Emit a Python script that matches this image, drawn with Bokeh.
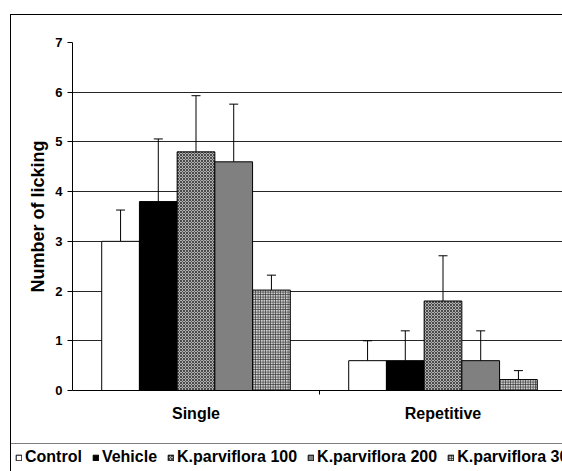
from bokeh.plotting import figure
from bokeh.layouts import column, row
from bokeh.models import (ColumnDataSource, Range1d, FixedTicker, Whisker, TeeHead, Legend, LegendItem, Div)
from bokeh.embed import file_html
from bokeh.resources import INLINE
import numpy as np

categories = ["Single", "Repetitive"]
series = ["Control", "Vehicle", "K.parviflora 100", "K.parviflora 200", "K.parviflora 300"]
means = {
    "Control":          [3.00, 0.60],
    "Vehicle":          [3.80, 0.60],
    "K.parviflora 100": [4.80, 1.80],
    "K.parviflora 200": [4.60, 0.60],
    "K.parviflora 300": [2.02, 0.22],
}
errors = {
    "Control":          [0.63, 0.40],
    "Vehicle":          [1.26, 0.60],
    "K.parviflora 100": [1.13, 0.91],
    "K.parviflora 200": [1.16, 0.60],
    "K.parviflora 300": [0.30, 0.18],
}
y_ticks = [0, 1, 2, 3, 4, 5, 6, 7]

styles = {
    "Control":          dict(fill_color="white"),
    "Vehicle":          dict(fill_color="black"),
    "K.parviflora 100": dict(fill_color="#b0b0b0", hatch_pattern="diagonal_cross", hatch_scale=3, hatch_color="#303030", hatch_weight=0.8),
    "K.parviflora 200": dict(fill_color="#808080"),
    "K.parviflora 300": dict(fill_color="#d0d0d0", hatch_pattern="cross", hatch_scale=2.5, hatch_color="#303030", hatch_weight=0.8),
}

FONT = "Liberation Sans"
W, H_MAIN, H_LEG = 551, 428, 28
bar_w = 0.1527
n = len(series)

p = figure(width=W, height=H_MAIN, output_backend="svg", toolbar_location=None,
           x_range=Range1d(0, 490 / 247), y_range=Range1d(0, 7),
           min_border_left=61, min_border_right=0, min_border_top=27, min_border_bottom=53)
p.outline_line_color = None
p.background_fill_color = "white"
p.border_fill_color = "white"

cat_idx = np.arange(len(categories))
for i, s in enumerate(series):
    xs = cat_idx + 0.5 + (i - (n - 1) / 2) * bar_w
    m = np.array(means[s])
    e = np.array(errors[s])
    src = ColumnDataSource(dict(x=xs, top=m, up=m + e))
    p.vbar(x="x", top="top", bottom=0, width=bar_w, source=src,
           line_color="black", line_width=1, **styles[s])
    w = Whisker(base="x", lower="top", upper="up", source=src, dimension="height",
                line_color="black", line_width=1,
                upper_head=TeeHead(size=9, line_color="black", line_width=1), lower_head=None)
    p.add_layout(w)

# axes
p.xaxis.ticker = FixedTicker(ticks=[0.5, 1.5], minor_ticks=[1.0])
p.xaxis.major_label_overrides = {0.5: categories[0], 1.5: categories[1]}
p.xaxis.major_tick_out = 0
p.xaxis.major_tick_in = 0
p.xaxis.minor_tick_out = 4
p.xaxis.minor_tick_in = 0
p.xaxis.minor_tick_line_color = "black"
p.xaxis.major_label_standoff = 10
p.xaxis.major_label_text_font = FONT
p.xaxis.major_label_text_font_style = "bold"
p.xaxis.major_label_text_font_size = "16px"
p.xaxis.major_label_text_color = "black"
p.xaxis.axis_line_color = "black"

p.yaxis.ticker = FixedTicker(ticks=y_ticks, minor_ticks=[])
p.yaxis.major_tick_out = 5
p.yaxis.major_tick_in = 0
p.yaxis.major_tick_line_color = "black"
p.yaxis.major_label_standoff = 5
p.yaxis.major_label_text_font = FONT
p.yaxis.major_label_text_font_style = "bold"
p.yaxis.major_label_text_font_size = "13px"
p.yaxis.major_label_text_color = "black"
p.yaxis.axis_line_color = "black"
p.yaxis.axis_label = "Number of licking"
p.yaxis.axis_label_text_font = FONT
p.yaxis.axis_label_text_font_style = "bold"
p.yaxis.axis_label_text_font_size = "18px"
p.yaxis.axis_label_text_color = "black"
p.yaxis.axis_label_standoff = 4

p.xgrid.grid_line_color = None
p.ygrid.ticker = FixedTicker(ticks=y_ticks[1:])
p.ygrid.grid_line_color = "black"
p.ygrid.grid_line_alpha = 0.85
p.ygrid.grid_line_width = 1

# legend strip
lg = figure(width=W, height=H_LEG, output_backend="svg", toolbar_location=None,
            x_range=Range1d(0, 1), y_range=Range1d(0, 1),
            x_axis_location=None, y_axis_location=None,
            min_border_left=0, min_border_right=0, min_border_top=0, min_border_bottom=0)
lg.outline_line_color = None
lg.grid.grid_line_color = None
lg.background_fill_color = "white"
lg.border_fill_color = "white"
for fig in (p, lg):
    try:
        fig.frame_align = False
    except Exception:
        pass

items = []
for s in series:
    # legend proxies: data lies outside the strip's visible range
    r = lg.vbar(x=[10], top=[1], width=0.1, line_color="black", line_width=1, **styles[s])
    items.append(LegendItem(label=s, renderers=[r]))
legend = Legend(items=items, orientation="horizontal", location=(-1, -0.5),
                glyph_width=7, glyph_height=7, label_standoff=3, spacing=10,
                padding=4, margin=0, label_height=19,
                label_text_font=FONT, label_text_font_style="bold",
                label_text_font_size="16px", label_text_color="black",
                border_line_color="black", border_line_width=1,
                background_fill_color="white", background_fill_alpha=1)
lg.add_layout(legend, "center")

# outer frame lines of the chart
vline = Div(text="", width=1, height=H_MAIN + H_LEG + 1, margin=0,
            styles={"background-color": "black", "overflow": "hidden"})
hline = Div(text="", width=W, height=1, margin=0,
            styles={"background-color": "black", "overflow": "hidden"})

layout = row(vline, column(hline, p, lg, spacing=0), spacing=0)
layout.margin = (14, 0, 0, 10)

open("out.html", "w").write(file_html(layout, INLINE))
